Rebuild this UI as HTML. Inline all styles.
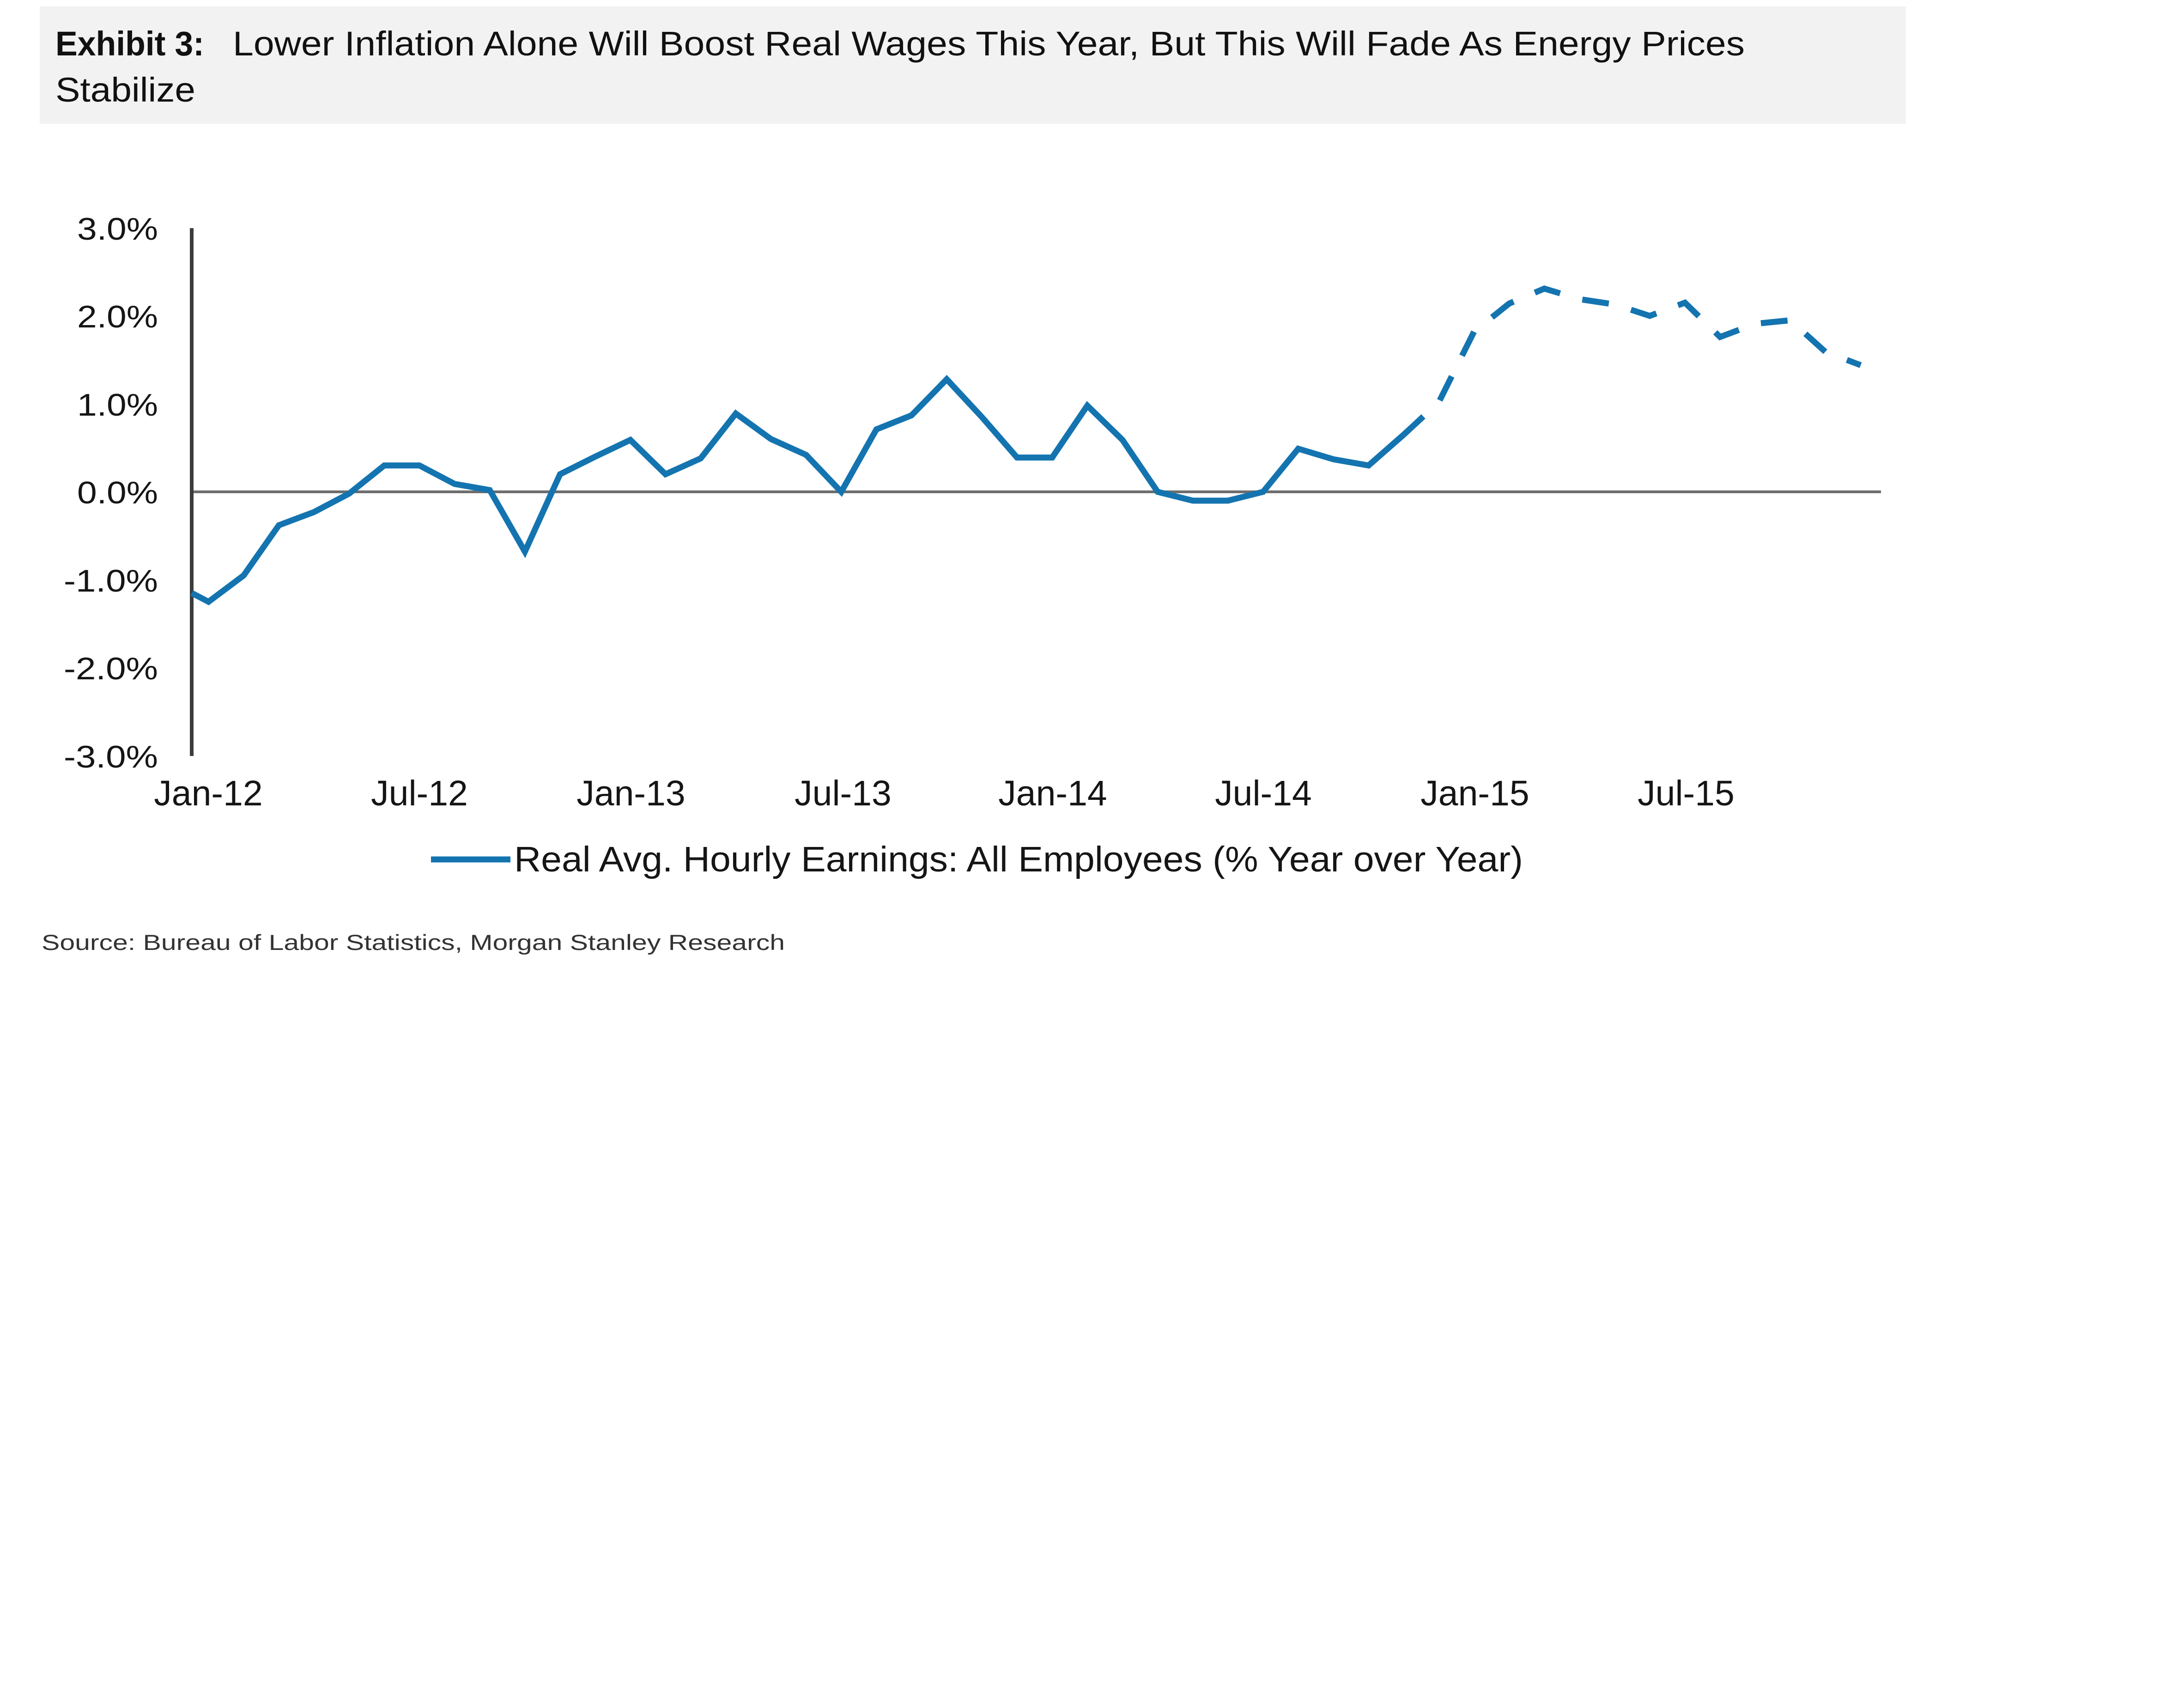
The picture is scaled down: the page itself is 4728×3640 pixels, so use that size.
<!DOCTYPE html>
<html>
<head>
<meta charset="utf-8">
<style>
html,body{margin:0;padding:0;background:#ffffff;}
body{width:4728px;height:3640px;overflow:hidden;}
svg{display:block;}
text{font-family:"Liberation Sans",Arial,sans-serif;}
</style>
</head>
<body>
<svg width="4728" height="3640" viewBox="0 0 4728 3640" xmlns="http://www.w3.org/2000/svg">
  <rect x="0" y="0" width="4728" height="3640" fill="#ffffff"/>
  <!-- Title box -->
  <rect x="86" y="14" width="4040" height="254" fill="#f2f2f2"/>
  <text x="120" y="120" font-size="74" font-weight="bold" fill="#111" textLength="322" lengthAdjust="spacingAndGlyphs">Exhibit 3:</text>
  <text x="504" y="120" font-size="74" fill="#111" textLength="3273" lengthAdjust="spacingAndGlyphs">Lower Inflation Alone Will Boost Real Wages This Year, But This Will Fade As Energy Prices</text>
  <text x="120" y="220" font-size="74" fill="#111" textLength="303" lengthAdjust="spacingAndGlyphs">Stabilize</text>

  <!-- Y axis labels -->
  <g font-size="68" fill="#151515" text-anchor="end">
    <text x="342" y="519" textLength="175" lengthAdjust="spacingAndGlyphs">3.0%</text>
    <text x="342" y="709" textLength="175" lengthAdjust="spacingAndGlyphs">2.0%</text>
    <text x="342" y="900" textLength="175" lengthAdjust="spacingAndGlyphs">1.0%</text>
    <text x="342" y="1090" textLength="175" lengthAdjust="spacingAndGlyphs">0.0%</text>
    <text x="342" y="1281" textLength="204" lengthAdjust="spacingAndGlyphs">-1.0%</text>
    <text x="342" y="1471" textLength="204" lengthAdjust="spacingAndGlyphs">-2.0%</text>
    <text x="342" y="1662" textLength="204" lengthAdjust="spacingAndGlyphs">-3.0%</text>
  </g>

  <!-- X axis labels -->
  <g font-size="77" fill="#151515" text-anchor="middle">
    <text x="451" y="1744">Jan-12</text>
    <text x="908" y="1744">Jul-12</text>
    <text x="1366" y="1744">Jan-13</text>
    <text x="1825" y="1744">Jul-13</text>
    <text x="2279" y="1744">Jan-14</text>
    <text x="2735" y="1744">Jul-14</text>
    <text x="3193" y="1744">Jan-15</text>
    <text x="3650" y="1744">Jul-15</text>
  </g>

  <!-- Zero line -->
  <line x1="415" y1="1065" x2="4072" y2="1065" stroke="#6e6e6e" stroke-width="6"/>
  <!-- Y axis -->
  <line x1="415" y1="494" x2="415" y2="1637" stroke="#3c3c3c" stroke-width="8"/>

  <!-- Solid series -->
  <polyline fill="none" stroke="#1474b0" stroke-width="13" stroke-linejoin="miter" stroke-miterlimit="4"
    points="415,1284 451.4,1303.1 527.5,1246.0 603.6,1137.4 679.7,1108.8 755.8,1068.8 831.9,1007.9 908.0,1007.9 984.1,1047.9 1060.2,1061.2 1136.3,1194.5 1212.4,1026.9 1288.5,988.8 1364.6,952.6 1440.7,1026.9 1516.8,992.6 1592.9,895.5 1669.0,950.7 1745.1,985.0 1821.2,1065 1897.3,929.7 1973.4,899.3 2049.5,821.2 2125.6,903.1 2201.7,990.7 2277.8,990.7 2353.9,878.3 2430.0,952.6 2506.1,1065 2582.2,1084.1 2658.3,1084.1 2734.4,1065 2810.5,971.7 2886.6,994.5 2962.7,1007.9 3038.8,941.2"/>
  <!-- Dashed forecast -->
  <polyline fill="none" stroke="#1474b0" stroke-width="13" stroke-linejoin="miter" stroke-dasharray="58 50"
    points="3038.8,941.2 3114.9,870.7 3191.0,718.3 3267.1,657.3 3343.2,624.9 3419.3,647.8 3495.4,659.2 3571.5,684.0 3647.6,655.4 3723.7,729.7 3799.8,701.1 3875.9,693.5 3952.0,762.1 4028.1,790.7"/>

  <!-- Legend -->
  <line x1="933" y1="1861" x2="1105" y2="1861" stroke="#1474b0" stroke-width="13"/>
  <text x="1113" y="1887" font-size="77" fill="#151515" textLength="2184" lengthAdjust="spacingAndGlyphs">Real Avg. Hourly Earnings: All Employees (% Year over Year)</text>

  <!-- Source -->
  <text x="90" y="2057" font-size="47" fill="#333" textLength="1609" lengthAdjust="spacingAndGlyphs">Source: Bureau of Labor Statistics, Morgan Stanley Research</text>
</svg>
</body>
</html>
